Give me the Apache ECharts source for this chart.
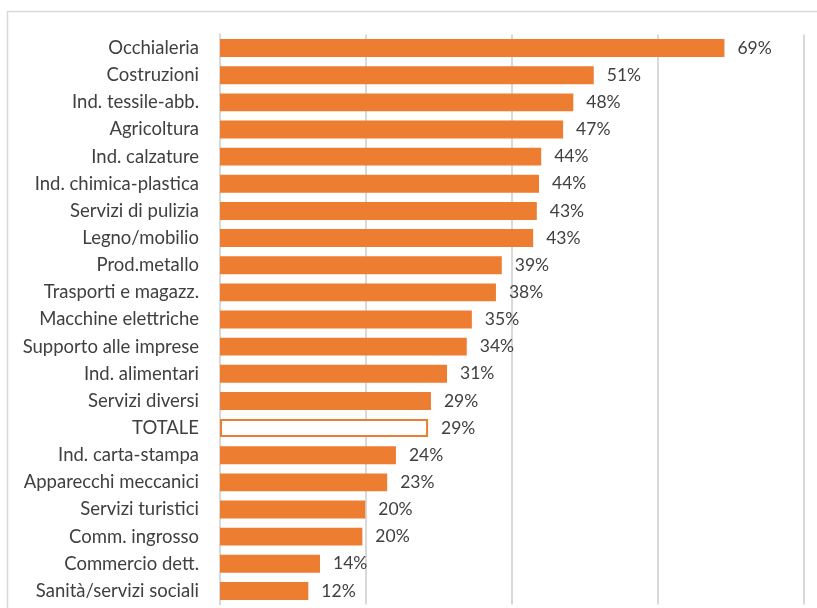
<!DOCTYPE html>
<html>
<head>
<meta charset="utf-8">
<style>
  html, body { margin: 0; padding: 0; background: #fff; }
  #chart { width: 817px; height: 608px; }
</style>
<script src="https://cdn.jsdelivr.net/npm/echarts@6/dist/echarts.min.js"></script>
</head>
<body>
<div id="chart"></div>
<script>
// Sectors, top to bottom
const categories = [
  'Occhialeria', 'Costruzioni', 'Ind. tessile-abb.', 'Agricoltura', 'Ind. calzature',
  'Ind. chimica-plastica', 'Servizi di pulizia', 'Legno/mobilio', 'Prod.metallo',
  'Trasporti e magazz.', 'Macchine elettriche', 'Supporto alle imprese', 'Ind. alimentari',
  'Servizi diversi', 'TOTALE', 'Ind. carta-stampa', 'Apparecchi meccanici',
  'Servizi turistici', 'Comm. ingrosso', 'Commercio dett.', 'Sanità/servizi sociali'
];
// Share per sector (%)
const values = [
  69.1, 51.2, 48.4, 47.0, 44.0,
  43.7, 43.4, 42.9, 38.6,
  37.8, 34.5, 33.8, 31.1,
  28.9, 28.5, 24.1, 22.9,
  19.9, 19.5, 13.7, 12.1
];
const totalLabel = 'TOTALE';
const axisTicks = [0, 20, 40, 60, 80];

const ORANGE = '#ED7D31';
const FONT = 'Lato';
const TEXT = '#404040';

const seriesData = categories.map((c, i) => ({
  value: values[i],
  itemStyle: c === totalLabel
    ? { color: '#ffffff', borderColor: ORANGE, borderWidth: 2 }
    : { color: ORANGE }
}));

const chart = echarts.init(document.getElementById('chart'), null, { renderer: 'canvas' });
chart.setOption({
  animation: false,
  backgroundColor: '#ffffff',
  graphic: [{
    type: 'rect',
    shape: { x: 7.5, y: 11.5, width: 900, height: 700 },
    style: { fill: 'none', stroke: '#d9d9d9', lineWidth: 1.5 },
    silent: true, z: -1
  }],
  grid: { left: 220, right: 13, top: 34.5, height: 570, containLabel: false },
  xAxis: {
    type: 'value',
    min: axisTicks[0],
    max: axisTicks[axisTicks.length - 1],
    interval: axisTicks[1] - axisTicks[0],
    axisLabel: { show: false },
    axisLine: { show: false },
    axisTick: { show: false },
    splitLine: { show: true, lineStyle: { color: '#d9d9d9', width: 2 } }
  },
  yAxis: {
    type: 'category',
    inverse: true,
    data: categories,
    axisLine: { show: true, lineStyle: { color: '#d9d9d9', width: 2 } },
    axisTick: { show: false },
    axisLabel: {
      color: TEXT, fontFamily: FONT, fontSize: 18.5, margin: 21
    }
  },
  series: [{
    type: 'bar',
    data: seriesData,
    barCategoryGap: '34%',
    label: {
      show: true,
      position: 'right',
      distance: 13,
      color: TEXT,
      fontFamily: FONT,
      fontSize: 17.5,
      formatter: p => Math.round(p.value) + '%'
    }
  }]
});
</script>
</body>
</html>
